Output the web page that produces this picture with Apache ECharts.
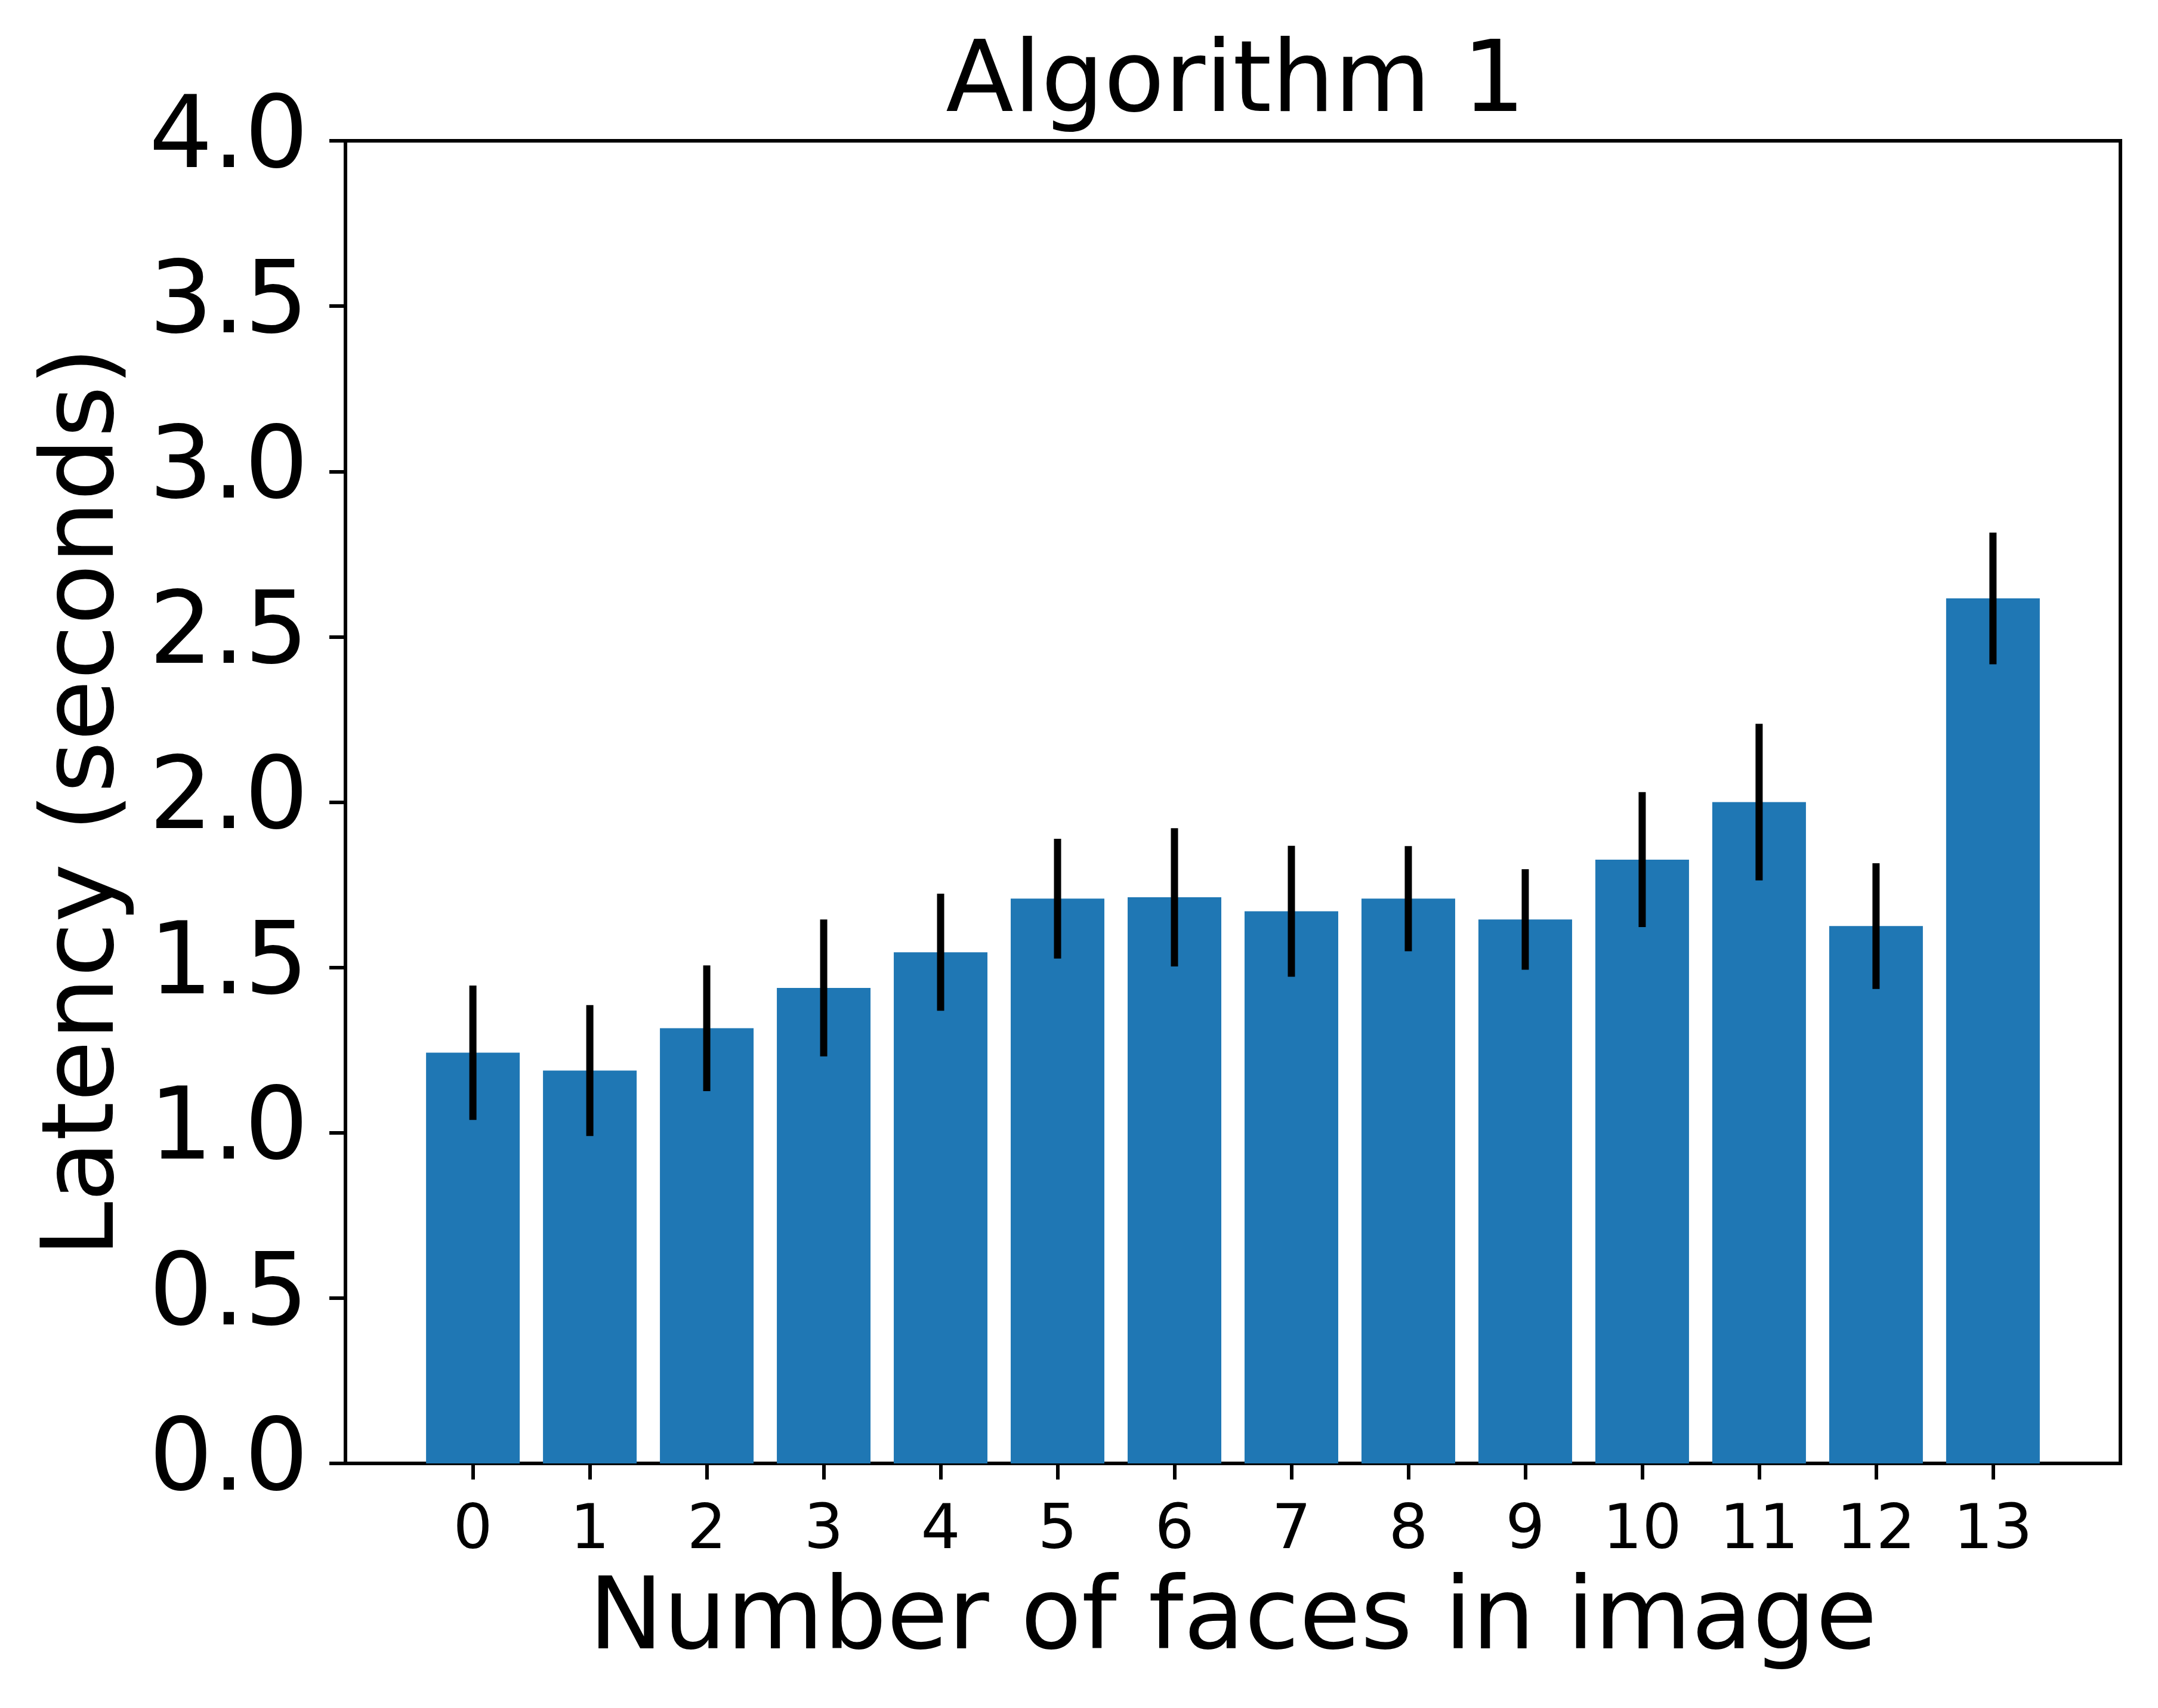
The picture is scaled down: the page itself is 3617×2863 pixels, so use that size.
<!DOCTYPE html>
<html>
<head>
<meta charset="utf-8">
<title>Algorithm 1</title>
<script src="https://cdn.jsdelivr.net/npm/echarts@6.0.0/dist/echarts.min.js"></script>
<style>
  html, body { margin: 0; padding: 0; background: #fff; }
  #myChart { width: 3617px; height: 2863px; }
</style>
</head>
<body>
<div id="myChart"></div>
<script>
// number of faces in image (x categories)
var faceCounts = [0, 1, 2, 3, 4, 5, 6, 7, 8, 9, 10, 11, 12, 13]
// mean latency (seconds)
var meanLatency = [1.242, 1.188, 1.316, 1.438, 1.546, 1.708, 1.712, 1.670, 1.708, 1.645, 1.826, 2.000, 1.625, 2.616]
// error bar half length (seconds)
var latencyErr = [0.203, 0.198, 0.190, 0.207, 0.177, 0.181, 0.209, 0.198, 0.159, 0.152, 0.204, 0.237, 0.190, 0.199]
var yTicks = [0, 0.5, 1, 1.5, 2, 2.5, 3, 3.5, 4]

var barData = []
var errData = []
for (var i = 0; i < faceCounts.length; i++) {
  barData.push([faceCounts[i], meanLatency[i]])
  errData.push([faceCounts[i], meanLatency[i] - latencyErr[i], meanLatency[i] + latencyErr[i]])
}

var font = 'DejaVu Sans'
var myChart = echarts.init(document.getElementById('myChart'), null, { renderer: 'canvas' })

myChart.setOption({
  animation: false,
  backgroundColor: '#ffffff',
  title: {
    text: 'Algorithm 1',
    left: 2066,
    textAlign: 'center',
    top: 55,
    textStyle: { fontFamily: font, fontSize: 166, fontWeight: 'normal', color: '#000' }
  },
  grid: {
    left: 579,
    right: 63,
    top: 236,
    bottom: 410,
    show: true,
    borderColor: '#000',
    borderWidth: 6,
    backgroundColor: 'transparent'
  },
  xAxis: {
    type: 'value',
    min: -1.09,
    max: 14.09,
    name: 'Number of faces in image',
    nameLocation: 'middle',
    nameGap: 183,
    nameTextStyle: { fontFamily: font, fontSize: 167, color: '#000' },
    splitLine: { show: false },
    axisLine: { show: true, onZero: false, lineStyle: { color: '#000', width: 6 } },
    axisTick: { show: true, customValues: faceCounts, length: 27, lineStyle: { color: '#000', width: 6 } },
    axisLabel: {
      customValues: faceCounts,
      margin: 63,
      fontFamily: font,
      fontSize: 104,
      color: '#000'
    }
  },
  yAxis: {
    type: 'value',
    min: 0,
    max: 4,
    interval: 0.5,
    name: 'Latency (seconds)',
    nameLocation: 'middle',
    nameGap: 350,
    nameTextStyle: { fontFamily: font, fontSize: 167, color: '#000' },
    splitLine: { show: false },
    axisLine: { show: true, onZero: false, lineStyle: { color: '#000', width: 6 } },
    axisTick: { show: true, length: 27, lineStyle: { color: '#000', width: 6 } },
    axisLabel: {
      margin: 62,
      fontFamily: font,
      fontSize: 168,
      color: '#000',
      formatter: function (v) { return v.toFixed(1) },
      customValues: yTicks
    }
  },
  series: [
    {
      name: 'latency',
      type: 'bar',
      data: barData,
      barWidth: 157,
      itemStyle: { color: '#1f77b4' }
    },
    {
      name: 'error',
      type: 'custom',
      data: errData,
      z: 10,
      renderItem: function (params, api) {
        var lo = api.coord([api.value(0), api.value(1)])
        var hi = api.coord([api.value(0), api.value(2)])
        return {
          type: 'line',
          shape: { x1: lo[0], y1: lo[1], x2: hi[0], y2: hi[1] },
          style: { stroke: '#000', lineWidth: 12 }
        }
      }
    }
  ]
})
</script>
</body>
</html>
